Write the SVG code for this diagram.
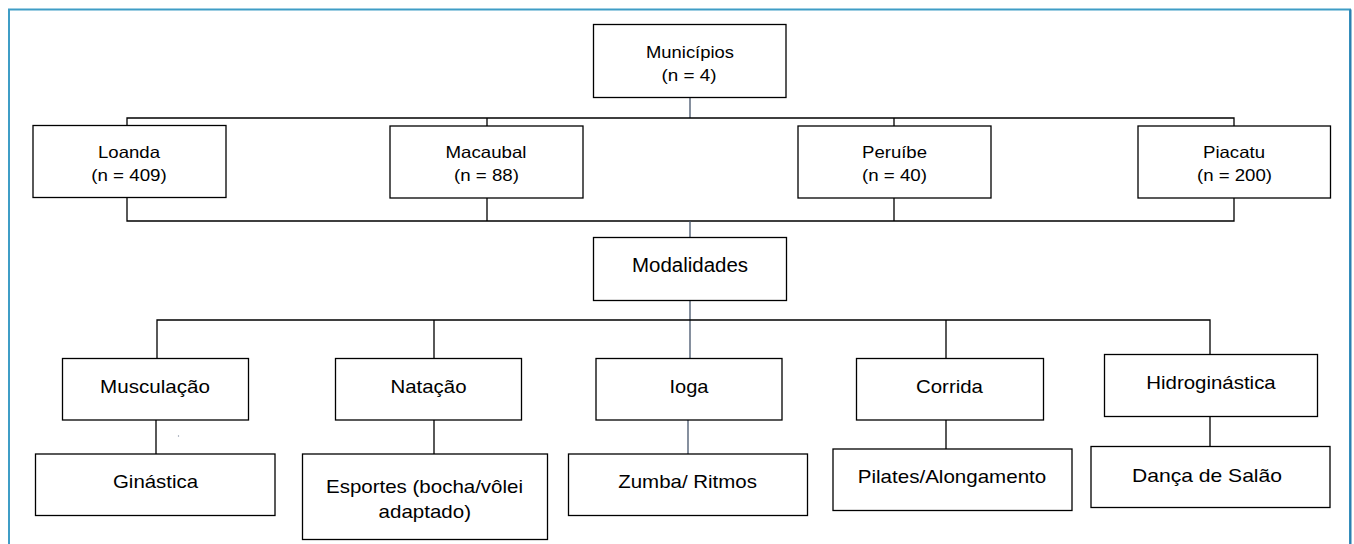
<svg xmlns="http://www.w3.org/2000/svg" width="1354" height="544" viewBox="0 0 1354 544">
<style>
.box{fill:#fff;stroke:#000;stroke-width:1.3}
.ln{stroke:#000;stroke-width:1.3;fill:none}
.bl{stroke:#44546a;stroke-width:1.3;fill:none}
.t1{font-family:"Liberation Sans",Arial,sans-serif;font-size:16.5px;fill:#000;text-anchor:middle}
.t2{font-family:"Liberation Sans",Arial,sans-serif;font-size:18.5px;fill:#000;text-anchor:middle}
</style>
<rect width="1354" height="544" fill="#fff"/>
<path d="M9 560 V9.5 H1350 V560" fill="none" stroke="#3f9dc6" stroke-width="2"/>
<path d="M1350.5 9.5 V560" fill="none" stroke="#2b7fb0" stroke-width="2"/>
<g id="connectors">
<path class="bl" d="M690 97 V118"/>
<path class="ln" d="M127 126 V118 H1234 V126 M487 118 V126 M894 118 V126"/>
<path class="ln" d="M127 197 V221 H1234 V198 M487 198 V221 M894 198 V221"/>
<path class="bl" d="M690 221 V238"/>
<path class="bl" d="M690 300 V359"/>
<path class="ln" d="M157 359 V320 H1210 V355 M434 320 V359 M946 320 V359"/>
<path class="ln" d="M156 420 V454 M434 420 V454 M946 420 V449 M1210 417 V447"/>
<path class="bl" d="M688 420 V454"/>
</g>
<circle cx="156" cy="413.5" r="0.7" fill="#8a94a6"/>
<circle cx="178.5" cy="436" r="0.7" fill="#8a94a6"/>
<g id="municipios">
<rect class="box" x="593.5" y="24.5" width="192.5" height="73"/>
<text class="t1" x="690" y="57.5" textLength="88" lengthAdjust="spacingAndGlyphs">Municípios</text>
<text class="t1" x="689" y="80.5" textLength="55" lengthAdjust="spacingAndGlyphs">(n = 4)</text>
</g>
<g id="loanda">
<rect class="box" x="33" y="125.5" width="193" height="72"/>
<text class="t1" x="129" y="158" textLength="62" lengthAdjust="spacingAndGlyphs">Loanda</text>
<text class="t1" x="129" y="180.5" textLength="75.5" lengthAdjust="spacingAndGlyphs">(n = 409)</text>
</g>
<g id="macaubal">
<rect class="box" x="390" y="126" width="193" height="72"/>
<text class="t1" x="486" y="158" textLength="81" lengthAdjust="spacingAndGlyphs">Macaubal</text>
<text class="t1" x="486.5" y="180.5" textLength="65" lengthAdjust="spacingAndGlyphs">(n = 88)</text>
</g>
<g id="peruibe">
<rect class="box" x="798" y="126" width="193" height="72"/>
<text class="t1" x="894.5" y="158" textLength="65" lengthAdjust="spacingAndGlyphs">Peruíbe</text>
<text class="t1" x="894.5" y="180.5" textLength="65" lengthAdjust="spacingAndGlyphs">(n = 40)</text>
</g>
<g id="piacatu">
<rect class="box" x="1138" y="126" width="192.5" height="72"/>
<text class="t1" x="1234" y="158" textLength="62" lengthAdjust="spacingAndGlyphs">Piacatu</text>
<text class="t1" x="1234.5" y="180.5" textLength="75" lengthAdjust="spacingAndGlyphs">(n = 200)</text>
</g>
<g id="modalidades">
<rect class="box" x="593.5" y="237.5" width="193" height="63"/>
<text class="t2" x="690" y="271.5" textLength="116" lengthAdjust="spacingAndGlyphs" style="font-size:19.5px">Modalidades</text>
</g>
<g id="musculacao">
<rect class="box" x="62.5" y="358.5" width="186" height="61.5"/>
<text class="t2" x="155" y="393" textLength="110" lengthAdjust="spacingAndGlyphs">Musculação</text>
</g>
<g id="natacao">
<rect class="box" x="335.5" y="358.5" width="186" height="61.5"/>
<text class="t2" x="428.5" y="393" textLength="76" lengthAdjust="spacingAndGlyphs">Natação</text>
</g>
<g id="ioga">
<rect class="box" x="596" y="358.5" width="186" height="61.5"/>
<text class="t2" x="689" y="393" textLength="39" lengthAdjust="spacingAndGlyphs">Ioga</text>
</g>
<g id="corrida">
<rect class="box" x="856.5" y="358.5" width="187" height="61.5"/>
<text class="t2" x="949.5" y="393" textLength="67" lengthAdjust="spacingAndGlyphs">Corrida</text>
</g>
<g id="hidroginastica">
<rect class="box" x="1104.5" y="354.5" width="213" height="62"/>
<text class="t2" x="1211" y="389" textLength="129.5" lengthAdjust="spacingAndGlyphs">Hidroginástica</text>
</g>
<g id="ginastica">
<rect class="box" x="35.5" y="454" width="239.5" height="61.5"/>
<text class="t2" x="155.5" y="487.5" textLength="85" lengthAdjust="spacingAndGlyphs">Ginástica</text>
</g>
<g id="esportes">
<rect class="box" x="302.5" y="454" width="245" height="85.5"/>
<text class="t2" x="424.5" y="493" textLength="197" lengthAdjust="spacingAndGlyphs">Esportes (bocha/vôlei</text>
<text class="t2" x="424.8" y="517.5" textLength="92.4" lengthAdjust="spacingAndGlyphs">adaptado)</text>
</g>
<g id="zumba">
<rect class="box" x="568.5" y="454" width="239" height="61.5"/>
<text class="t2" x="687.6" y="487.5" textLength="138.7" lengthAdjust="spacingAndGlyphs">Zumba/ Ritmos</text>
</g>
<g id="pilates">
<rect class="box" x="833" y="449" width="239" height="61.5"/>
<text class="t2" x="952" y="482.5" textLength="188.5" lengthAdjust="spacingAndGlyphs">Pilates/Alongamento</text>
</g>
<g id="danca">
<rect class="box" x="1091" y="446.5" width="239" height="61"/>
<text class="t2" x="1207" y="481.5" textLength="150" lengthAdjust="spacingAndGlyphs">Dança de Salão</text>
</g>
</svg>
